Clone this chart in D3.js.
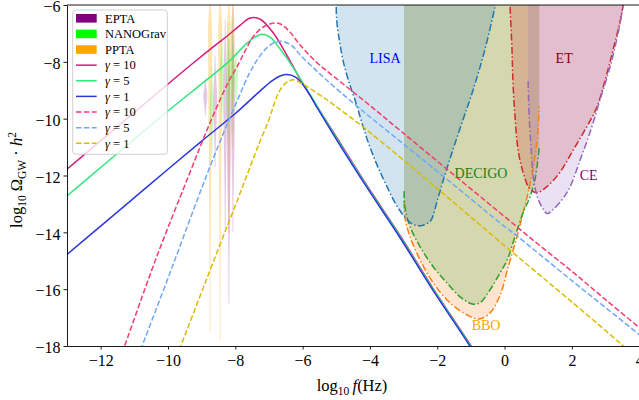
<!DOCTYPE html>
<html>
<head>
<meta charset="utf-8">
<script src="https://cdn.jsdelivr.net/npm/d3@7"></script>
<style>
  body { margin: 0; background: #fff; }
  svg { display: block; }
  text { font-family: "Liberation Serif", "DejaVu Serif", serif; }
</style>
</head>
<body>
<svg id="chart" width="639" height="400"></svg>
<script>
// ---- axis ticks ----
const xTicks = [-12, -10, -8, -6, -4, -2, 0, 2, 4];
const yTicks = [-18, -16, -14, -12, -10, -8, -6];

// ---- model spectra: [log10 f, log10 Omega h^2] ----
const gamma10Solid = [[-13.0,-11.78],[-12.0,-10.78],[-11.0,-9.78],[-10.0,-8.78],[-9.25,-8.04],[-8.6,-7.42],[-8.25,-7.1],[-7.86,-6.72],[-7.56,-6.46],[-7.26,-6.5],[-6.88,-6.97],[-6.5,-7.7],[-6.08,-8.6],[-5.6,-9.52],[-5.09,-10.47],[-4.09,-12.35],[-3.1,-14.12],[-2.11,-16.0],[-1.12,-17.77],[-0.8,-18.35]];
const gamma5Solid = [[-13.0,-12.72],[-12.0,-11.72],[-11.0,-10.72],[-10.0,-9.73],[-8.9,-8.68],[-8.2,-8.0],[-7.66,-7.35],[-7.4,-7.12],[-7.2,-7.03],[-6.95,-7.15],[-6.7,-7.5],[-6.27,-8.22],[-5.78,-9.15],[-5.09,-10.5],[-4.09,-12.38],[-3.1,-14.15],[-2.11,-16.03],[-1.12,-17.8],[-0.8,-18.4]];
const gamma1Solid = [[-13.0,-14.78],[-12.0,-13.78],[-11.0,-12.78],[-10.0,-11.78],[-9.0,-10.79],[-8.0,-9.82],[-7.26,-9.02],[-6.9,-8.66],[-6.65,-8.49],[-6.45,-8.45],[-6.2,-8.55],[-5.9,-8.95],[-5.6,-9.55],[-5.09,-10.55],[-4.09,-12.42],[-3.1,-14.2],[-2.11,-16.07],[-1.12,-17.84],[-0.8,-18.45]];
const gamma10Dashed = [[-11.45,-18.5],[-11.28,-17.97],[-10.38,-15.0],[-9.4,-12.05],[-8.7,-10.0],[-8.2,-8.7],[-7.96,-8.2],[-7.7,-7.6],[-7.46,-7.1],[-7.2,-6.8],[-6.95,-6.66],[-6.7,-6.65],[-6.4,-6.92],[-6.08,-7.4],[-5.6,-8.0],[-5.09,-8.5],[-4.09,-9.45],[-3.1,-10.42],[-1.72,-11.77],[-0.13,-13.32],[1.0,-14.42],[2.05,-15.42],[3.0,-16.37],[4.0,-17.35],[4.3,-17.65]];
const gamma5Dashed = [[-10.9,-18.4],[-10.76,-17.97],[-9.9,-15.3],[-8.9,-12.14],[-8.21,-10.1],[-7.9,-9.25],[-7.6,-8.45],[-7.36,-7.95],[-7.1,-7.55],[-6.85,-7.33],[-6.6,-7.28],[-6.3,-7.45],[-6.08,-7.75],[-5.6,-8.3],[-5.09,-8.85],[-4.09,-9.85],[-3.1,-10.8],[-1.92,-11.93],[-0.13,-13.67],[0.36,-14.12],[2.0,-15.7],[4.0,-17.6],[4.3,-17.9]];
const gamma1Dashed = [[-9.75,-18.4],[-9.61,-17.97],[-8.9,-15.79],[-7.91,-12.78],[-7.3,-10.9],[-7.02,-10.1],[-6.85,-9.5],[-6.7,-9.05],[-6.5,-8.75],[-6.27,-8.63],[-6.0,-8.78],[-5.6,-9.08],[-5.09,-9.5],[-4.09,-10.4],[-2.0,-12.46],[-0.13,-14.34],[2.05,-16.5],[3.48,-17.95],[3.9,-18.4]];

// ---- detector sensitivity curves: [log10 f, log10 Omega h^2] ----
const lisaCurve = [[-5.0,-5.6],[-4.99,-6.5],[-4.9,-7.3],[-4.79,-8.0],[-4.6,-8.8],[-4.44,-9.35],[-4.25,-10.1],[-4.06,-10.8],[-3.8,-11.6],[-3.55,-12.25],[-3.19,-13.09],[-2.9,-13.55],[-2.75,-13.7],[-2.57,-13.77],[-2.4,-13.74],[-2.2,-13.6],[-1.98,-12.8],[-1.77,-11.97],[-1.53,-11.08],[-1.23,-10.02],[-0.93,-8.97],[-0.58,-7.55],[-0.28,-6.04],[-0.2,-5.6]];
const decigoCurve = [[-2.985,-12.55],[-2.97,-13.0],[-2.93,-13.31],[-2.81,-13.8],[-2.51,-14.51],[-2.12,-15.21],[-1.71,-15.78],[-1.32,-16.27],[-0.96,-16.52],[-0.73,-16.48],[-0.43,-16.02],[-0.13,-15.42],[0.08,-14.97],[0.31,-14.15],[0.55,-13.31],[0.76,-12.74],[0.91,-12.1],[1.0,-11.35],[1.03,-11.0]];
const bboCurve = [[-2.985,-12.91],[-2.96,-13.48],[-2.81,-14.15],[-2.51,-14.97],[-2.12,-15.78],[-1.62,-16.48],[-1.11,-16.91],[-0.76,-17.05],[-0.43,-16.84],[-0.13,-16.2],[0.11,-15.21],[0.37,-14.15],[0.55,-13.31],[0.7,-12.6],[0.85,-11.72],[0.97,-10.73],[1.03,-9.57]];
const etCurve = [[0.16,-5.6],[0.165,-6.04],[0.22,-7.55],[0.25,-8.72],[0.31,-9.92],[0.4,-11.08],[0.55,-11.89],[0.76,-12.49],[0.97,-12.6],[1.26,-12.39],[1.65,-11.88],[2.05,-11.08],[2.45,-10.27],[2.75,-9.57],[3.05,-8.37],[3.23,-7.55],[3.43,-6.6],[3.52,-6.04],[3.56,-5.6]];
const ceCurve = [[0.7,-8.68],[0.73,-9.92],[0.79,-11.08],[0.85,-12.04],[0.97,-12.74],[1.12,-13.13],[1.26,-13.34],[1.44,-13.2],[1.74,-12.8],[1.95,-12.39],[2.25,-11.44],[2.54,-10.48],[2.84,-9.32],[3.14,-8.15],[3.38,-6.95],[3.5,-6.14],[3.55,-5.6]];

// ---- PTA free-spectrum posteriors: [log10 f, lower, mode, upper] ----
const eptaBins = [[-8.89,-9.9,-9.2,-8.6],[-8.6,-11.7,-9.3,-7.8],[-8.3,-14.0,-9.0,-6.5],[-8.19,-16.5,-10.0,-7.2],[-8.07,-14.0,-9.5,-6.0]];
const nanogravBins = [[-8.7,-11.4,-9.6,-8.15],[-8.4,-10.3,-8.5,-7.0],[-8.22,-10.8,-8.6,-6.6],[-8.1,-10.5,-8.3,-6.4],[-7.98,-9.7,-8.5,-7.5]];
const pptaBins = [[-8.75,-17.5,-6.8,-5.5],[-8.45,-17.8,-6.8,-5.5],[-8.19,-14.0,-7.0,-5.5],[-8.07,-11.0,-7.3,-5.5]];

// ---- labels ----
const detectorLabels = [
  { name: "LISA", at: [-3.55, -8.04], color: "#0000ff" },
  { name: "DECIGO", at: [-0.7, -12.1], color: "#1a801a" },
  { name: "BBO", at: [-0.55, -17.45], color: "#ffa500" },
  { name: "ET", at: [1.77, -8.04], color: "#8b0000" },
  { name: "CE", at: [2.5, -12.15], color: "#800080" }
];
const gammaLabels = ["10", "5", "1"];

// ---- layout ----
const M = { left: 67, right: 639.2, top: 5, bottom: 346 };
const svg = d3.select("#chart");
const x = d3.scaleLinear().domain([-13, 4]).range([M.left, M.right]);
const y = d3.scaleLinear().domain([-18, -6]).range([M.bottom, M.top]);

svg.append("defs").append("clipPath").attr("id", "plot")
  .append("rect").attr("x", M.left).attr("y", M.top)
  .attr("width", M.right - M.left).attr("height", M.bottom - M.top);

const plot = svg.append("g").attr("clip-path", "url(#plot)");

const line = d3.line().x(d => x(d[0])).y(d => y(d[1])).curve(d3.curveCatmullRom.alpha(0.5));
const areaToTop = d3.area().x(d => x(d[0])).y0(M.top - 20).y1(d => y(d[1])).curve(d3.curveCatmullRom.alpha(0.5));

// detector regions: translucent fill from curve up to the top of the frame
const detectors = [
  { data: bboCurve, color: "#ff7f0e" },
  { data: decigoCurve, color: "#2ca02c" },
  { data: lisaCurve, color: "#1f77b4" },
  { data: etCurve, color: "#d62728" },
  { data: ceCurve, color: "#9467bd" }
];
detectors.forEach(d => {
  plot.append("path").attr("d", areaToTop(d.data))
    .attr("fill", d.color).attr("fill-opacity", 0.2).attr("stroke", "none");
});
detectors.forEach(d => {
  plot.append("path").attr("d", line(d.data))
    .attr("fill", "none").attr("stroke", d.color).attr("stroke-width", 1.5)
    .attr("stroke-dasharray", "7,2.4,1.5,2.4");
});

// PTA violins
function violin(bin, maxHalf) {
  const [lf, lo, mode, hi] = bin;
  const n = 40, right = [], left = [];
  const sUp = (hi - mode) || 0.3, sDn = (mode - lo) || 0.3;
  for (let i = 0; i <= n; i++) {
    const v = lo + (hi - lo) * i / n;
    const s = v > mode ? sUp : sDn;
    const w = 0.35 + maxHalf * Math.exp(-Math.pow((v - mode) / (s * 0.55), 2));
    right.push([x(lf) + w, y(v)]);
    left.unshift([x(lf) - w, y(v)]);
  }
  return "M" + right.concat(left).map(p => p.join(",")).join("L") + "Z";
}
[[pptaBins, "#ffa500", 0.3], [eptaBins, "#800080", 0.22], [nanogravBins, "#00ff00", 0.22]].forEach(([bins, c, op]) => {
  bins.forEach(b => plot.append("path").attr("d", violin(b, 1.6)).attr("fill", c).attr("fill-opacity", op));
});

// model spectra
const models = [
  { data: gamma10Solid, color: "#d31c7e", dash: null },
  { data: gamma5Solid, color: "#2fe679", dash: null },
  { data: gamma1Solid, color: "#2b38df", dash: null },
  { data: gamma10Dashed, color: "#f43c6e", dash: "5.5,2.4" },
  { data: gamma5Dashed, color: "#6fa8f8", dash: "5.5,2.4" },
  { data: gamma1Dashed, color: "#dcbc00", dash: "5.5,2.4" }
];
models.forEach(m => {
  plot.append("path").attr("d", line(m.data)).attr("fill", "none")
    .attr("stroke", m.color).attr("stroke-width", 1.5)
    .attr("stroke-dasharray", m.dash);
});

// detector names
detectorLabels.forEach(l => {
  svg.append("text").attr("x", x(l.at[0])).attr("y", y(l.at[1]))
    .attr("text-anchor", "middle").attr("font-size", 14).attr("fill", l.color).text(l.name);
});

// axes
const fmt = d => d3.format("d")(d);
const xAxis = svg.append("g").attr("transform", `translate(0,${M.bottom})`)
  .call(d3.axisBottom(x).tickValues(xTicks).tickFormat(fmt).tickSizeInner(3.5).tickSizeOuter(0).tickPadding(5));
const yAxis = svg.append("g").attr("transform", `translate(${M.left},0)`)
  .call(d3.axisLeft(y).tickValues(yTicks).tickFormat(fmt).tickSizeInner(3.5).tickSizeOuter(0).tickPadding(3));
[xAxis, yAxis].forEach(g => {
  g.attr("font-family", '"Liberation Serif", serif');
  g.selectAll("text").attr("font-size", 16).attr("fill", "#000");
  g.selectAll("line").attr("stroke", "#000").attr("stroke-width", 0.9);
  g.select(".domain").attr("stroke", "#000").attr("stroke-width", 0.9);
});
yAxis.selectAll("text").attr("dy", "0.42em");
svg.append("line").attr("x1", M.left).attr("x2", M.right).attr("y1", M.top).attr("y2", M.top)
  .attr("stroke", "#000").attr("stroke-width", 0.9);

// axis titles
const xl = svg.append("text").attr("x", 352).attr("y", 391).attr("text-anchor", "middle").attr("font-size", 16.5);
xl.append("tspan").text("log");
xl.append("tspan").attr("font-size", 11.5).attr("dy", 4).text("10");
xl.append("tspan").attr("dy", -4).text("\u2009");
xl.append("tspan").attr("font-style", "italic").text("f");
xl.append("tspan").text("(Hz)");

const yl = svg.append("text").attr("transform", "translate(22,180) rotate(-90)")
  .attr("text-anchor", "middle").attr("font-size", 16.5);
yl.append("tspan").text("log");
yl.append("tspan").attr("font-size", 11.5).attr("dy", 4).text("10");
yl.append("tspan").attr("dy", -4).text(" \u03A9");
yl.append("tspan").attr("font-size", 11.5).attr("dy", 4).text("GW");
yl.append("tspan").attr("dy", -4).text(" \u00B7 ");
yl.append("tspan").attr("font-style", "italic").text("h");
yl.append("tspan").attr("font-size", 11.5).attr("dy", -6).text("2");

// legend
const lg = svg.append("g");
lg.append("rect").attr("x", 72.7).attr("y", 10).attr("width", 94.6).attr("height", 144.3)
  .attr("rx", 3).attr("fill", "#fff").attr("fill-opacity", 0.8).attr("stroke", "#cccccc").attr("stroke-width", 0.9);
const legendItems = [
  { kind: "patch", color: "#800080", label: "EPTA" },
  { kind: "patch", color: "#00ff00", label: "NANOGrav" },
  { kind: "patch", color: "#ffa500", label: "PPTA" },
  ...models.map((m, i) => ({ kind: "line", color: m.color, dash: m.dash, gamma: gammaLabels[i % 3] }))
];
legendItems.forEach((it, i) => {
  const cy = 18.3 + i * 15.62;
  if (it.kind === "patch") {
    lg.append("rect").attr("x", 76).attr("y", cy - 4.3).attr("width", 20.7).attr("height", 8.6).attr("fill", it.color);
  } else {
    lg.append("line").attr("x1", 76).attr("x2", 96.7).attr("y1", cy).attr("y2", cy)
      .attr("stroke", it.color).attr("stroke-width", 1.5).attr("stroke-dasharray", it.dash);
  }
  const t = lg.append("text").attr("x", 105).attr("y", cy + 4.3).attr("font-size", 12.5).attr("fill", "#000");
  if (it.kind === "patch") t.text(it.label);
  else {
    t.append("tspan").attr("font-style", "italic").text("\u03B3");
    t.append("tspan").text(" = " + it.gamma);
  }
});
</script>
</body>
</html>
